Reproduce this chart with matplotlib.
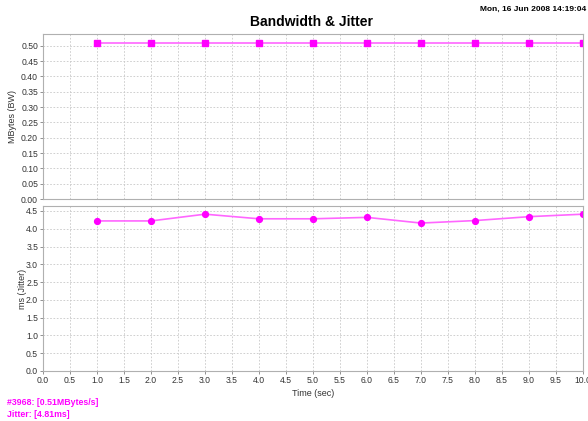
import matplotlib
matplotlib.use("Agg")
import matplotlib.pyplot as plt

plt.rcParams["font.family"] = ["Liberation Sans", "DejaVu Sans"]

# data
time_s = [1, 2, 3, 4, 5, 6, 7, 8, 9, 10]
bandwidth = [0.51, 0.51, 0.51, 0.51, 0.51, 0.51, 0.51, 0.51, 0.51, 0.51]
jitter = [4.22, 4.22, 4.41, 4.28, 4.28, 4.32, 4.16, 4.23, 4.34, 4.41]

bw_ticks = [0.00, 0.05, 0.10, 0.15, 0.20, 0.25, 0.30, 0.35, 0.40, 0.45, 0.50]
jit_ticks = [0.0, 0.5, 1.0, 1.5, 2.0, 2.5, 3.0, 3.5, 4.0, 4.5]
x_ticks = [0.0, 0.5, 1.0, 1.5, 2.0, 2.5, 3.0, 3.5, 4.0, 4.5, 5.0, 5.5, 6.0, 6.5, 7.0, 7.5, 8.0, 8.5, 9.0, 9.5, 10.0]

MAGENTA = "#FF00FF"
LINE = "#FF66FF"
SPINE = "#B0B0B0"
GRID = "#C8C8C8"

fig = plt.figure(figsize=(5.88, 4.21), dpi=100)
ax1 = fig.add_axes([0.0731, 0.5273, 0.9184, 0.3919])
ax2 = fig.add_axes([0.0731, 0.1188, 0.9184, 0.3919])

def style(ax):
    for s in ax.spines.values():
        s.set_color(SPINE)
        s.set_linewidth(0.8)
    ax.grid(True, color=GRID, linestyle=(0, (2, 2)), linewidth=0.6)
    ax.set_axisbelow(True)
    ax.tick_params(labelsize=6.2, length=2, width=0.6, color="#808080", pad=1.5, labelcolor="#333333")
    ax.set_xlim(0, 10)
    ax.set_xticks(x_ticks)

ax1.plot(time_s, bandwidth, color=LINE, linewidth=1.2, marker="s", markersize=4,
         markerfacecolor=MAGENTA, markeredgecolor=MAGENTA)
style(ax1)
ax1.set_ylim(0, 0.538)
ax1.set_yticks(bw_ticks)
ax1.set_yticklabels([f"{v:.2f}" for v in bw_ticks])
ax1.tick_params(axis="x", labelbottom=False, length=0)
ax1.set_ylabel("MBytes (BW)", fontsize=6.5, color="#333333", labelpad=3)

ax2.plot(time_s, jitter, color=LINE, linewidth=1.2, marker="o", markersize=4.2,
         markerfacecolor=MAGENTA, markeredgecolor=MAGENTA)
style(ax2)
ax2.set_ylim(0, 4.64)
ax2.set_yticks(jit_ticks)
ax2.set_yticklabels([f"{v:.1f}" for v in jit_ticks])
ax2.set_xticklabels([f"{v:.1f}" for v in x_ticks])
ax2.set_ylabel("ms (Jitter)", fontsize=6.5, color="#333333", labelpad=-1)
ax2.set_xlabel("Time (sec)", fontsize=6.5, color="#333333", labelpad=3)

fig.text(0.53, 0.947, "Bandwidth & Jitter", ha="center", va="center", fontsize=10, fontweight="bold")
fig.text(0.997, 0.977, "Mon, 16 Jun 2008 14:19:04", ha="right", va="center", fontsize=6, fontweight="bold")
fig.text(0.012, 0.043, "#3968: [0.51MBytes/s]", ha="left", va="center", fontsize=6.3,
         fontweight="bold", color=MAGENTA)
fig.text(0.012, 0.016, "Jitter: [4.81ms]", ha="left", va="center", fontsize=6.3,
         fontweight="bold", color=MAGENTA)

fig.savefig("out.png", dpi=100)
